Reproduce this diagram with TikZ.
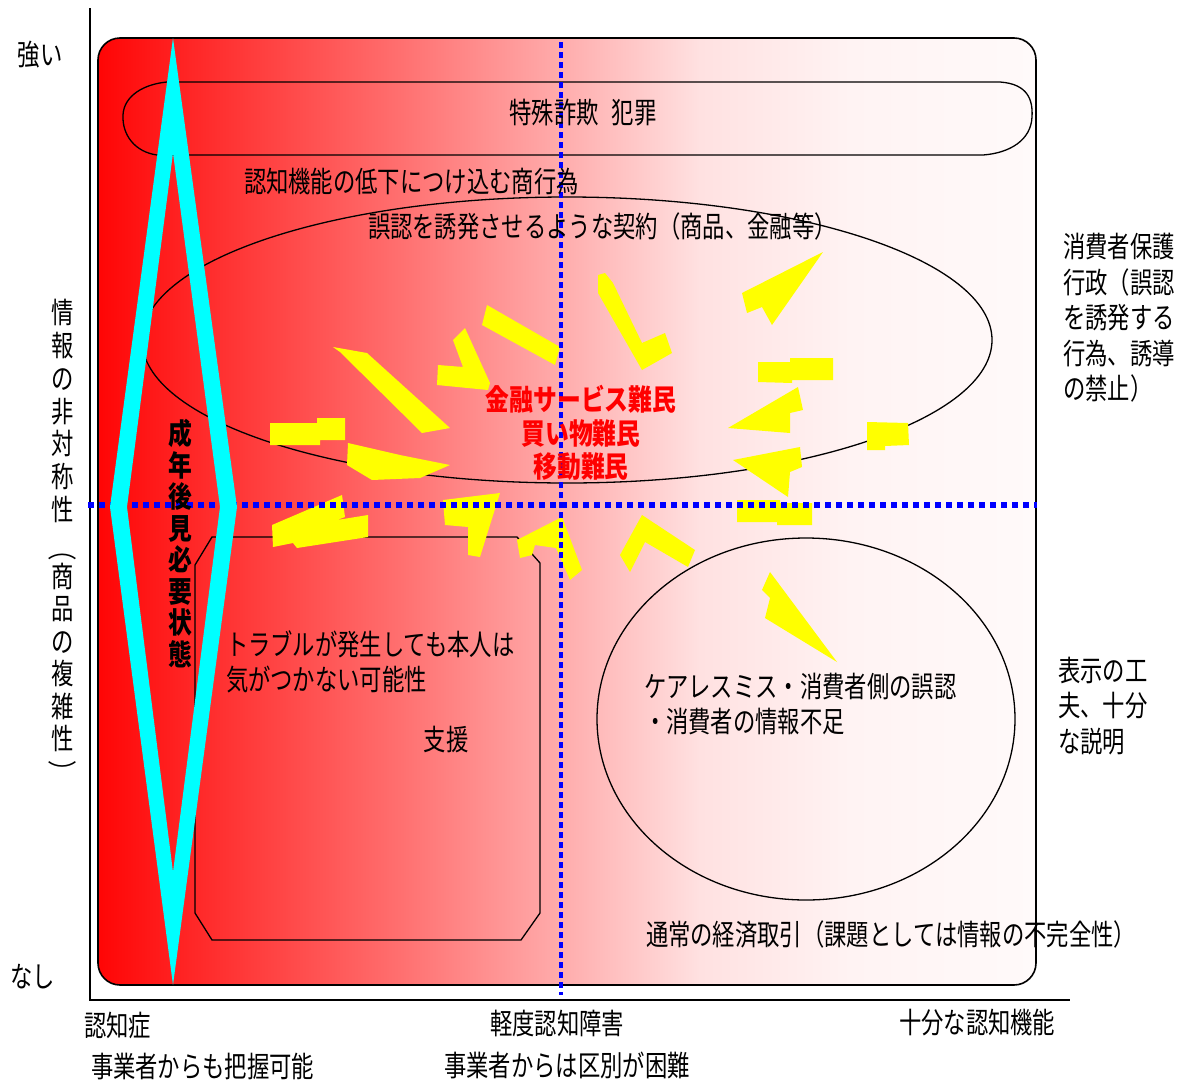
\documentclass[tikz,border=0pt]{standalone}
\usepackage{fontspec}
\newfontfamily\jp[FakeStretch=0.77]{Noto Sans CJK JP}
\newfontfamily\jpb[FakeStretch=0.82]{Noto Sans CJK JP}
\definecolor{s0}{RGB}{255,5,5}
\definecolor{s1}{RGB}{255,60,60}
\definecolor{s2}{RGB}{255,112,112}
\definecolor{s3}{RGB}{255,172,172}
\definecolor{s4}{RGB}{255,225,225}
\definecolor{s5}{RGB}{255,243,243}
\definecolor{s6}{RGB}{255,250,250}
\definecolor{cy}{RGB}{0,255,255}
\definecolor{yl}{RGB}{255,255,0}
\definecolor{bl}{RGB}{0,0,255}
\definecolor{rd}{RGB}{255,0,0}
\pgfdeclarehorizontalshading{redwhite}{100bp}{color(0bp)=(s0); color(25bp)=(s0); color(33.2bp)=(s1); color(41.2bp)=(s2); color(49.7bp)=(s3); color(57.1bp)=(s4); color(65.1bp)=(s5); color(75bp)=(s6); color(100bp)=(s6)}
\begin{document}
\begin{tikzpicture}[x=1pt,y=-1pt,
  t/.style={font=\jp\fontsize{29}{35.5}\selectfont, inner sep=0pt, outer sep=0pt, text=black},
  tb/.style={font=\jpb\bfseries\fontsize{29}{33.5}\selectfont, inner sep=0pt, outer sep=0pt},
  vch/.style={text height=21pt, text depth=4pt},
  outline/.style={draw=black, line width=1.3},
  bolt/.style={fill=yl, draw=none}]
\useasboundingbox (0,0) rectangle (1180,1087);
\fill[white] (0,0) rectangle (1180,1087);
% axes
\coordinate (ytop) at (90,8);
\coordinate (org) at (90,1000);
\coordinate (xend) at (1070,1000);
\draw[line width=1.5] (ytop) -- (org) -- (xend);
% main region
\shadedraw[shading=redwhite, rounded corners=22, line width=1.6] (98,38) rectangle (1036,985);
% stadium
\draw[outline] (167,82) -- (1000,82) .. controls (1028,84) and (1033,100) .. (1032,117) .. controls (1031,140) and (1010,153) .. (983,155) -- (157,155) .. controls (135,152) and (122,135) .. (123,115) .. controls (124,95) and (145,84) .. (167,82) -- cycle;
% ellipses
\draw[outline] (567,340) ellipse [x radius=425, y radius=143];
\draw[outline] (806,719) ellipse [x radius=209, y radius=181];
% octagon box
\draw[outline] (212,537) -- (517,537) -- (540,563) -- (540,913) -- (521,940) -- (212,940) -- (195,913) -- (195,565) -- cycle;
% yellow bolts
\fill[bolt] (742,293) -- (823,252) -- (772,325) -- (762,307) -- (747,313) -- cycle;
\fill[bolt] (598,275) -- (605,273) -- (613,283) -- (642,343) -- (665,333) -- (672,353) -- (642,370) -- (598,293) -- cycle;
\fill[bolt] (758,362) -- (790,362) -- (790,358) -- (833,358) -- (833,380) -- (792,380) -- (792,383) -- (758,382) -- cycle;
\fill[bolt] (728,428) -- (798,387) -- (803,410) -- (790,413) -- (790,433) -- cycle;
\fill[bolt] (733,460) -- (800,447) -- (802,467) -- (790,472) -- (788,497) -- cycle;
\fill[bolt] (737,500) -- (780,500) -- (780,503) -- (812,503) -- (812,525) -- (777,525) -- (777,522) -- (737,522) -- cycle;
\fill[bolt] (867,422) -- (908,423) -- (909,445) -- (885,446) -- (885,450) -- (867,450) -- cycle;
\fill[bolt] (620,555) -- (642,515) -- (695,550) -- (688,567) -- (645,542) -- (630,572) -- cycle;
\fill[bolt] (770,572) -- (837,662) -- (765,618) -- (770,598) -- (762,590) -- cycle;
\fill[bolt] (333,347) -- (367,353) -- (450,428) -- (422,433) -- (340,352) -- cycle;
\fill[bolt] (487,305) -- (560,347) -- (555,365) -- (482,325) -- cycle;
\fill[bolt] (453,340) -- (465,328) -- (490,383) -- (488,390) -- (437,385) -- (438,365) -- (463,367) -- cycle;
\fill[bolt] (270,423) -- (317,423) -- (317,418) -- (345,418) -- (345,440) -- (320,440) -- (320,445) -- (270,445) -- cycle;
\fill[bolt] (348,443) -- (400,455) -- (450,465) -- (420,478) -- (372,480) -- (347,465) -- cycle;
\fill[bolt] (272,525) -- (342,495) -- (345,517) -- (337,520) -- (368,515) -- (368,537) -- (297,548) -- (293,543) -- (273,547) -- cycle;
\fill[bolt] (443,500) -- (500,493) -- (480,557) -- (468,555) -- (468,527) -- (445,525) -- cycle;
\fill[bolt] (517,540) -- (562,517) -- (582,570) -- (570,580) -- (556,548) -- (535,545) -- (532,555) -- (520,558) -- cycle;
% blue dotted lines
\coordinate (vb1) at (561,42);
\coordinate (vb2) at (561,995);
\draw[bl, line width=3.5, dash pattern=on 6pt off 4pt] (vb1) -- (vb2);
\coordinate (hb1) at (88,505);
\coordinate (hb2) at (1037,505);
\draw[bl, line width=6, dash pattern=on 6pt off 5pt] (hb1) -- (hb2);
% cyan diamond
\fill[cy, even odd rule] (173,38) -- (237,507) -- (173,985) -- (110,507) -- cycle (173,153) -- (220,507) -- (173,872) -- (127,507) -- cycle;
% axis labels
\node[t] (strong) at (40,55) {強い};
\node[t] (none) at (33,977) {なし};
\node[t, anchor=west] (dem) at (84,1025) {認知症};
\node[t, anchor=west] (demsub) at (91,1066) {事業者からも把握可能};
\node[t] (mci) at (557,1023) {軽度認知障害};
\node[t] (mcisub) at (567,1065) {事業者からは区別が困難};
\node[t, anchor=west] (full) at (899,1023) {十分な認知機能};
\foreach \c/\y [count=\i] in {情/315, 報/348, の/381, 非/414, 対/446, 称/479, 性/512, 商/579, 品/611, の/644, 複/676, 雑/709, 性/741}
  \node[t, vch] (va\i) at (63,\y) {\c};
\node[t, rotate=-90] (vpl) at (63,550) {（};
\node[t, rotate=-90] (vpr) at (63,772) {）};
% inner texts
\node[t] (crime) at (583,113) {特殊詐欺\hspace{13pt}犯罪};
\node[t, anchor=west] (exploit) at (244,182) {認知機能の低下につけ込む商行為};
\node[t, anchor=west] (contract) at (368,226) {誤認を誘発させるような契約（商品、金融等）};
\node[t, anchor=west, align=left] (admin) at (1063,318) {消費者保護\\行政（誤認\\を誘発する\\行為、誘導\\の禁止）};
\node[t, anchor=west, align=left] (display) at (1058,706) {表示の工\\夫、十分\\な説明};
\node[t, anchor=west, align=left] (trouble) at (226,662) {トラブルが発生しても本人は\\気がつかない可能性};
\node[t] (support) at (446,740) {支援};
\node[t, anchor=west, align=left] (careless) at (644,704) {ケアレスミス・消費者側の誤認\\・消費者の情報不足};
\node[t, anchor=west] (normal) at (646,934) {通常の経済取引（課題としては情報の不完全性）};
\node[tb, text=rd, align=center] (refugee) at (581,433) {金融サービス難民\\買い物難民\\移動難民};
\foreach \c [count=\i from 0] in {成,年,後,見,必,要,状,態}
  \node[tb, vch, text=black] (gk\i) at (180,436+31.5*\i) {\c};
\end{tikzpicture}
\end{document}
